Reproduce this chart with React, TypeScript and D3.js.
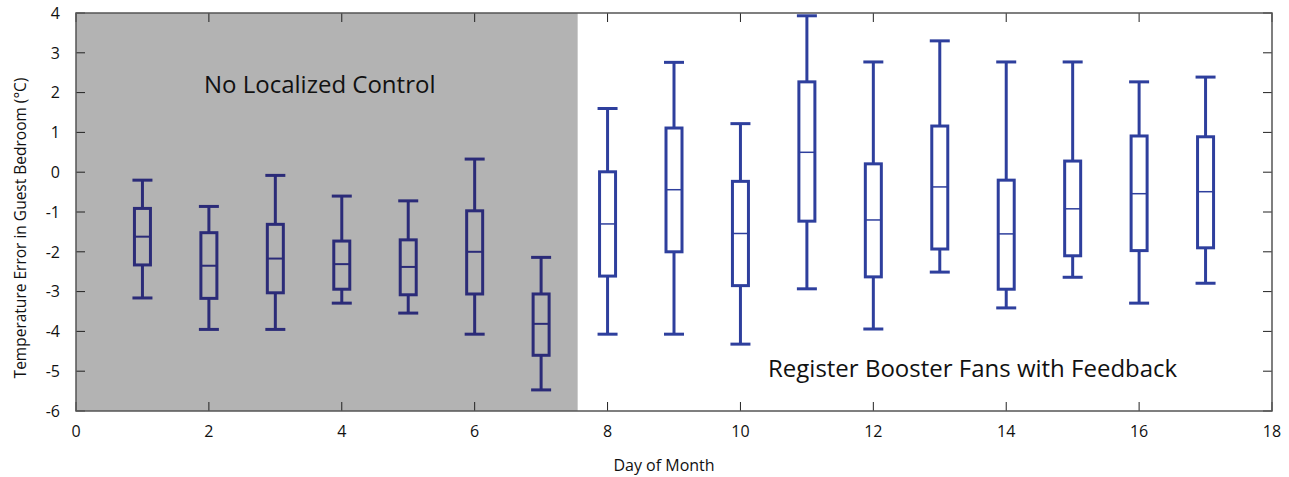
import React from "react";
import * as d3 from "d3";

const days = [1, 2, 3, 4, 5, 6, 7, 8, 9, 10, 11, 12, 13, 14, 15, 16, 17];
const whiskerHigh = [-0.2, -0.86, -0.08, -0.6, -0.72, 0.33, -2.14, 1.6, 2.76, 1.22, 3.93, 2.77, 3.3, 2.77, 2.77, 2.27, 2.39];
const q3 = [-0.91, -1.52, -1.31, -1.73, -1.7, -0.97, -3.06, 0.01, 1.11, -0.23, 2.27, 0.21, 1.16, -0.2, 0.28, 0.91, 0.89];
const medians = [-1.62, -2.35, -2.17, -2.31, -2.38, -2.0, -3.81, -1.3, -0.44, -1.54, 0.5, -1.2, -0.37, -1.55, -0.92, -0.54, -0.49];
const q1 = [-2.33, -3.17, -3.03, -2.94, -3.08, -3.06, -4.6, -2.61, -2.0, -2.85, -1.23, -2.63, -1.93, -2.94, -2.1, -1.97, -1.9];
const whiskerLow = [-3.16, -3.95, -3.95, -3.29, -3.54, -4.07, -5.47, -4.07, -4.07, -4.32, -2.93, -3.94, -2.51, -3.41, -2.64, -3.29, -2.79];
const xTicks = [0, 2, 4, 6, 8, 10, 12, 14, 16, 18];
const yTicks = [-6, -5, -4, -3, -2, -1, 0, 1, 2, 3, 4];
const shadeEnd = 7.55;

const W = 1289, H = 477;
const L = 76, R = 1272, T = 13, B = 411;
const font = "'Open Sans', sans-serif";

export default function App() {
  const x = d3.scaleLinear().domain([0, 18]).range([L, R]);
  const y = d3.scaleLinear().domain([-6, 4]).range([B, T]);
  const boxW = 16, capW = 20, tickLen = 9;
  return (
    <svg width={W} height={H} style={{ position: "absolute", left: 0, top: 0, background: "#fff" }} fontFamily={font}>
      <rect x={x(0)} y={T} width={x(shadeEnd) - x(0)} height={B - T} fill="#b3b3b3" />
      {yTicks.map((t) => (
        <g key={"y" + t}>
          <line x1={L} x2={L + tickLen} y1={y(t)} y2={y(t)} stroke="#222" strokeWidth={1} />
          <line x1={R} x2={R - tickLen} y1={y(t)} y2={y(t)} stroke="#222" strokeWidth={1} />
          <text x={L - 16} y={y(t)} dy="0.36em" textAnchor="end" fontSize={16} fill="#111">{t}</text>
        </g>
      ))}
      {xTicks.map((t) => (
        <g key={"x" + t}>
          <line x1={x(t)} x2={x(t)} y1={B} y2={B - tickLen} stroke="#222" strokeWidth={1} />
          <line x1={x(t)} x2={x(t)} y1={T} y2={T + tickLen} stroke="#222" strokeWidth={1} />
          <text x={x(t)} y={B + 26} textAnchor="middle" fontSize={16} fill="#111">{t}</text>
        </g>
      ))}
      <rect x={L} y={T} width={R - L} height={B - T} fill="none" stroke="#555" strokeWidth={1.5} />
      {days.map((d, i) => {
        const left = d < shadeEnd;
        const c = left ? "#2b2b78" : "#2e3f9d";
        const cx = x(d);
        return (
          <g key={d}>
            <line x1={cx} x2={cx} y1={y(whiskerHigh[i])} y2={y(q3[i])} stroke={c} strokeWidth={3} />
            <line x1={cx} x2={cx} y1={y(q1[i])} y2={y(whiskerLow[i])} stroke={c} strokeWidth={3} />
            <line x1={cx - capW / 2} x2={cx + capW / 2} y1={y(whiskerHigh[i])} y2={y(whiskerHigh[i])} stroke={c} strokeWidth={3} />
            <line x1={cx - capW / 2} x2={cx + capW / 2} y1={y(whiskerLow[i])} y2={y(whiskerLow[i])} stroke={c} strokeWidth={3} />
            <rect x={cx - boxW / 2} y={y(q3[i])} width={boxW} height={y(q1[i]) - y(q3[i])} fill={left ? "none" : "#fff"} stroke={c} strokeWidth={3} />
            <line x1={cx - boxW / 2} x2={cx + boxW / 2} y1={y(medians[i])} y2={y(medians[i])} stroke={c} strokeWidth={left ? 2 : 1.5} />
          </g>
        );
      })}
      <text x={204} y={93} fontSize={24} fill="#111">No Localized Control</text>
      <text x={768} y={377} fontSize={24} fill="#111">Register Booster Fans with Feedback</text>
      <text x={664} y={471} textAnchor="middle" fontSize={16} fill="#111">Day of Month</text>
      <text transform={`translate(26,228) rotate(-90)`} textAnchor="middle" fontSize={15.5} fill="#111">Temperature Error in Guest Bedroom (°C)</text>
    </svg>
  );
}
